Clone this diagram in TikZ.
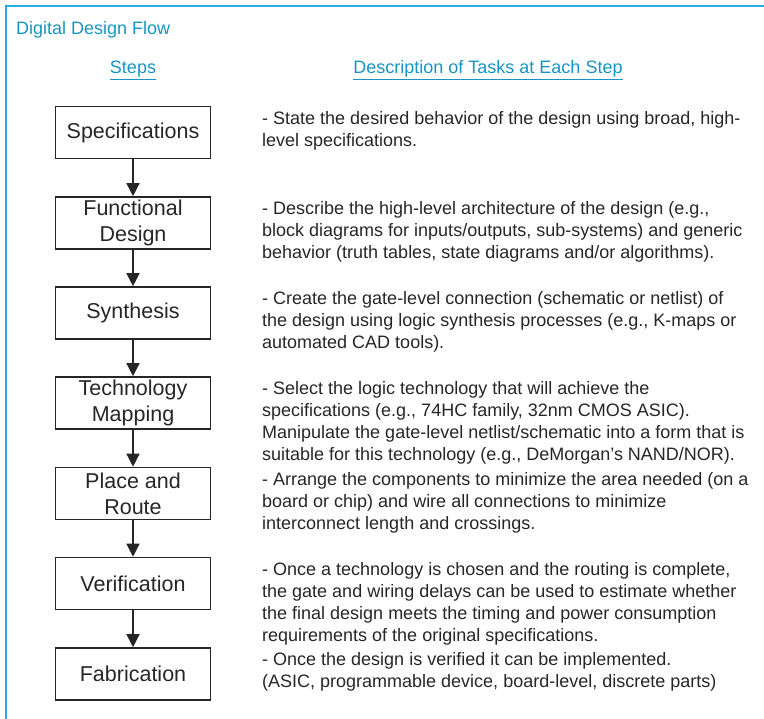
\documentclass[tikz,border=0pt]{standalone}
\usepackage{fontspec}
\setmainfont{Liberation Sans}
\usepackage{xcolor}
\usetikzlibrary{arrows.meta}
\definecolor{frameblue}{RGB}{41,171,226}
\definecolor{titleblue}{RGB}{24,148,196}
\definecolor{ink}{RGB}{38,38,38}
\tikzstyle{stepbox}=[draw=ink,line width=1.6pt,text=ink,minimum width=155pt,minimum height=52pt,inner sep=1pt,align=center,font=\fontsize{21.5}{26}\selectfont]
\tikzstyle{desc}=[text=ink,inner sep=0pt,anchor=north west,align=left,font=\fontsize{18}{22}\selectfont]
\tikzstyle{head}=[text=titleblue,inner sep=0pt,anchor=base,font=\fontsize{18}{21}\selectfont]
\tikzstyle{flow}=[line width=1.4pt,draw=ink,-{Triangle[length=13pt,width=13pt]}]
\newcommand\hd[1]{\underline{#1}}
\begin{document}
\begin{tikzpicture}[x=1pt,y=-1pt]
	\useasboundingbox (0,0) rectangle (764,719);
	\draw[frameblue,line width=2pt] (6,719) -- (6,6) -- (764,6);
	\node[head,anchor=base west] (title) at (16,35) {Digital Design Flow};
	\node[head] (hsteps) at (133,74) {\hd{Steps}};
	\node[head] (hdesc) at (488,74) {\hd{Description of Tasks at Each Step}};
	% the steps
	\node[stepbox] (spec)  at (133,132.5) {Specifications};
	\node[stepbox] (func)  at (133,223)   {Functional\\Design};
	\node[stepbox] (synth) at (133,313)   {Synthesis};
	\node[stepbox] (tech)  at (133,403)   {Technology\\Mapping};
	\node[stepbox] (par)   at (133,493.5) {Place and\\Route};
	\node[stepbox] (verif) at (133,583.5) {Verification};
	\node[stepbox] (fab)   at (133,674)   {Fabrication};
	\draw[flow] (spec)  -- (func);
	\draw[flow] (func)  -- (synth);
	\draw[flow] (synth) -- (tech);
	\draw[flow] (tech)  -- (par);
	\draw[flow] (par)   -- (verif);
	\draw[flow] (verif) -- (fab);
	% the tasks
	\node[desc] (dspec)  at (262,111) {- State the desired behavior of the design using broad, high-\\level specifications.};
	\node[desc] (dfunc)  at (262,201) {- Describe the high-level architecture of the design (e.g.,\\block diagrams for inputs/outputs, sub-systems) and generic\\behavior (truth tables, state diagrams and/or algorithms).};
	\node[desc] (dsynth) at (262,291) {- Create the gate-level connection (schematic or netlist) of\\the design using logic synthesis processes (e.g., K-maps or\\automated CAD tools).};
	\node[desc] (dtech)  at (262,381) {- Select the logic technology that will achieve the\\specifications (e.g., 74HC family, 32nm CMOS ASIC).\\Manipulate the gate-level netlist/schematic into a form that is\\suitable for this technology (e.g., DeMorgan’s NAND/NOR).};
	\node[desc] (dpar)   at (262,472) {- Arrange the components to minimize the area needed (on a\\board or chip) and wire all connections to minimize\\interconnect length and crossings.};
	\node[desc] (dverif) at (262,562) {- Once a technology is chosen and the routing is complete,\\the gate and wiring delays can be used to estimate whether\\the final design meets the timing and power consumption\\requirements of the original specifications.};
	\node[desc] (dfab)   at (262,652) {- Once the design is verified it can be implemented.\\(ASIC, programmable device, board-level, discrete parts)};
\end{tikzpicture}
\end{document}
